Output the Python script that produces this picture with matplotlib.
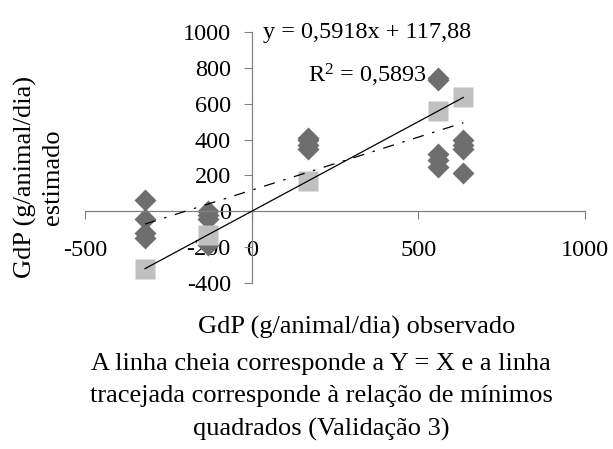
import matplotlib
matplotlib.use("Agg")
import matplotlib.pyplot as plt

plt.rcParams['font.family'] = ['Liberation Serif', 'DejaVu Serif']
plt.rcParams['mathtext.fontset'] = 'custom'
plt.rcParams['mathtext.rm'] = 'Liberation Serif'
plt.rcParams['mathtext.it'] = 'Liberation Serif:italic'

# ── data ──────────────────────────────────────────────────────────────────
obs_diamond = [-320] * 4 + [-132] * 4 + [168] * 4 + [560] * 5 + [635] * 4
est_diamond = [65, -45, -120, -150,
               0, -20, -45, -190,
               410, 395, 370, 345,
               745, 730, 320, 285, 245,
               395, 370, 350, 215]
obs_square = [-320, -132, 168, 560, 635]
est_square = [-320, -132, 168, 560, 635]

slope, intercept, r2 = 0.5918, 117.88, 0.5893
x_ticks = [-500, 0, 500, 1000]
y_ticks = [-400, -200, 0, 200, 400, 600, 800, 1000]

# ── figure ────────────────────────────────────────────────────────────────
fig = plt.figure(figsize=(6.13, 4.49), dpi=100)
ax = fig.add_axes([85 / 613, 1 - 283 / 449, 500 / 613, 251 / 449])

ax.plot(obs_diamond, est_diamond, 'D', color='#6e6e6e', ms=11, mec='none', zorder=2)
ax.plot(obs_square, est_square, 's', color='#c0c0c0', ms=14, mec='none', zorder=3)

xs = [min(obs_square), max(obs_square)]
ax.plot(xs, xs, color='black', lw=0.9, zorder=4)
ax.plot(xs, [slope * x + intercept for x in xs], color='black', lw=0.9,
        dashes=(9, 7, 2, 7), zorder=4)

ax.text(33, 1000, "y = 0,5918x + 117,88", fontsize=17.5, ha='left', va='center')
ax.text(168, 760, "R$^{2}$ = 0,5893", fontsize=17.5, ha='left', va='center')

ax.set_xlim(-500, 1000)
ax.set_ylim(-400, 1000)
ax.set_xticks(x_ticks)
ax.set_yticks(y_ticks)
ax.set_xticklabels([str(t) for t in x_ticks])
ax.set_yticklabels([str(t) for t in y_ticks])

for s in ['top', 'right']:
    ax.spines[s].set_visible(False)
ax.spines['left'].set_position(('data', 0))
ax.spines['bottom'].set_position(('data', 0))
for s in ['left', 'bottom']:
    ax.spines[s].set_color('#808080')
    ax.spines[s].set_linewidth(0.9)
ax.tick_params(axis='x', direction='out', length=6, color='#808080', pad=15, labelsize=17.5)
ax.tick_params(axis='y', direction='out', length=6, color='#808080', pad=9, labelsize=17.5)
ax.patch.set_visible(False)

fig.text(39 / 613, 1 - 177 / 449, "GdP (g/animal/dia)\nestimado", rotation=90,
         ha='center', va='center', fontsize=19, linespacing=1.25)
fig.text(357 / 613, 1 - 327 / 449, "GdP (g/animal/dia) observado",
         ha='center', va='center', fontsize=19)
fig.text(321 / 613, 1 - 397 / 449,
         "A linha cheia corresponde a Y = X e a linha\n"
         "tracejada corresponde à relação de mínimos\n"
         "quadrados (Validação 3)",
         ha='center', va='center', fontsize=19, linespacing=1.6)

fig.savefig("out.png", dpi=100)
